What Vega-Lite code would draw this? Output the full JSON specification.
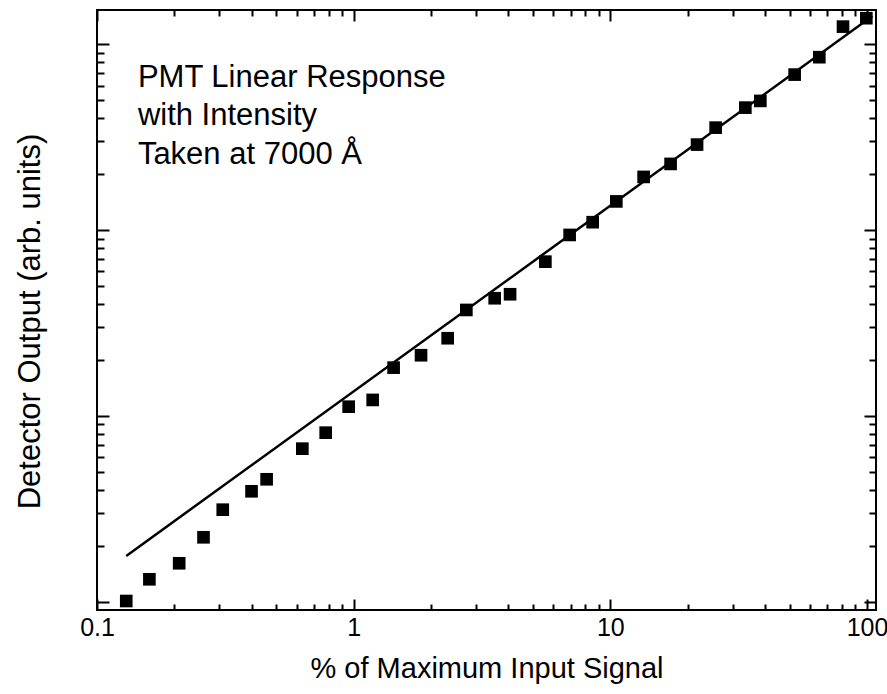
{
  "$schema": "https://vega.github.io/schema/vega-lite/v6.json",
  "width": 779,
  "height": 600,
  "autosize": {"type": "none"},
  "padding": {"left": 97, "top": 10, "right": 11, "bottom": 84},
  "background": "white",
  "config": {
    "view": {"stroke": "black", "strokeWidth": 2},
    "axis": {
      "domain": false,
      "grid": false,
      "labelFont": "Liberation Sans",
      "titleFont": "Liberation Sans",
      "labelColor": "black",
      "titleColor": "black",
      "tickColor": "black",
      "titleFontWeight": "normal"
    }
  },
  "resolve": {"axis": {"x": "independent", "y": "independent"}},
  "layer": [
    {
      "data": {"values": [{"x": 0.13, "y": 1.76}, {"x": 105, "y": 1420}]},
      "mark": {"type": "line", "color": "black", "strokeWidth": 2.5},
      "encoding": {
        "x": {
          "field": "x", "type": "quantitative",
          "scale": {"type": "log", "domain": [0.1, 108.4], "nice": false},
          "axis": {
            "orient": "bottom", "labels": false, "title": null,
            "values": [0.1,0.2,0.3,0.4,0.5,0.6,0.7,0.8,0.9,1,2,3,4,5,6,7,8,9,10,20,30,40,50,60,70,80,90,100],
            "tickWidth": 2,
            "tickSize": {"condition": {"test": "abs(log(datum.value)/LN10 - round(log(datum.value)/LN10)) < 0.001", "value": -11}, "value": -6}
          }
        },
        "y": {
          "field": "y", "type": "quantitative",
          "scale": {"type": "log", "domain": [0.9, 1530], "nice": false},
          "axis": {
            "orient": "left", "labels": false, "title": null,
            "values": [1,2,3,4,5,6,7,8,9,10,20,30,40,50,60,70,80,90,100,200,300,400,500,600,700,800,900,1000],
            "tickWidth": 2,
            "tickSize": {"condition": {"test": "abs(log(datum.value)/LN10 - round(log(datum.value)/LN10)) < 0.001", "value": -12}, "value": -7}
          }
        }
      }
    },
    {
      "data": {"values": [
        {"x": 0.130, "y": 1.006},
        {"x": 0.160, "y": 1.317},
        {"x": 0.209, "y": 1.606},
        {"x": 0.260, "y": 2.217},
        {"x": 0.309, "y": 3.121},
        {"x": 0.400, "y": 3.921},
        {"x": 0.458, "y": 4.550},
        {"x": 0.631, "y": 6.65},
        {"x": 0.778, "y": 8.11},
        {"x": 0.956, "y": 11.19},
        {"x": 1.186, "y": 12.17},
        {"x": 1.431, "y": 18.16},
        {"x": 1.830, "y": 21.18},
        {"x": 2.324, "y": 26.15},
        {"x": 2.748, "y": 37.13},
        {"x": 3.543, "y": 42.93},
        {"x": 4.068, "y": 45.11},
        {"x": 5.583, "y": 67.57},
        {"x": 6.941, "y": 94.1},
        {"x": 8.533, "y": 110.2},
        {"x": 10.55, "y": 142.6},
        {"x": 13.48, "y": 193.2},
        {"x": 17.17, "y": 227.0},
        {"x": 21.77, "y": 288.4},
        {"x": 25.72, "y": 355.9},
        {"x": 33.57, "y": 456.1},
        {"x": 38.41, "y": 495.7},
        {"x": 52.24, "y": 686.8},
        {"x": 65.19, "y": 852.3},
        {"x": 80.63, "y": 1245},
        {"x": 99.38, "y": 1382}
      ]},
      "mark": {"type": "square", "size": 160, "color": "black", "filled": true, "opacity": 1},
      "encoding": {
        "x": {
          "field": "x", "type": "quantitative",
          "scale": {"type": "log", "domain": [0.1, 108.4], "nice": false},
          "axis": {
            "orient": "bottom", "ticks": false,
            "values": [0.1, 1, 10, 100],
            "labelExpr": "datum.value + ''",
            "labelFlush": false, "labelOverlap": false,
            "labelFontSize": 25, "labelBaseline": "alphabetic", "labelPadding": 25,
            "title": "% of Maximum Input Signal",
            "titleFontSize": 29, "titleBaseline": "alphabetic", "titleY": 67
          }
        },
        "y": {
          "field": "y", "type": "quantitative",
          "scale": {"type": "log", "domain": [0.9, 1530], "nice": false},
          "axis": {
            "orient": "left", "ticks": false, "labels": false,
            "title": "Detector Output (arb. units)",
            "titleFontSize": 31, "titleAngle": 270, "titleAlign": "center",
            "titleBaseline": "alphabetic", "titleX": -58, "titleY": 311
          }
        }
      }
    },
    {
      "data": {"values": [{"x": 0.1443, "y": 590, "label": "PMT Linear Response\nwith Intensity\nTaken at 7000 Å"}]},
      "mark": {"type": "text", "align": "left", "baseline": "alphabetic", "font": "Liberation Sans", "fontSize": 31, "lineBreak": "\n", "lineHeight": 38.5, "color": "black"},
      "encoding": {
        "text": {"field": "label"},
        "x": {
          "field": "x", "type": "quantitative",
          "scale": {"type": "log", "domain": [0.1, 108.4], "nice": false},
          "axis": {
            "orient": "top", "labels": false, "title": null,
            "values": [0.1,0.2,0.3,0.4,0.5,0.6,0.7,0.8,0.9,1,2,3,4,5,6,7,8,9,10,20,30,40,50,60,70,80,90,100],
            "tickWidth": 2,
            "tickSize": {"condition": {"test": "abs(log(datum.value)/LN10 - round(log(datum.value)/LN10)) < 0.001", "value": -11}, "value": -6}
          }
        },
        "y": {
          "field": "y", "type": "quantitative",
          "scale": {"type": "log", "domain": [0.9, 1530], "nice": false},
          "axis": {
            "orient": "right", "labels": false, "title": null,
            "values": [1,2,3,4,5,6,7,8,9,10,20,30,40,50,60,70,80,90,100,200,300,400,500,600,700,800,900,1000],
            "tickWidth": 2,
            "tickSize": {"condition": {"test": "abs(log(datum.value)/LN10 - round(log(datum.value)/LN10)) < 0.001", "value": -12}, "value": -7}
          }
        }
      }
    }
  ]
}
